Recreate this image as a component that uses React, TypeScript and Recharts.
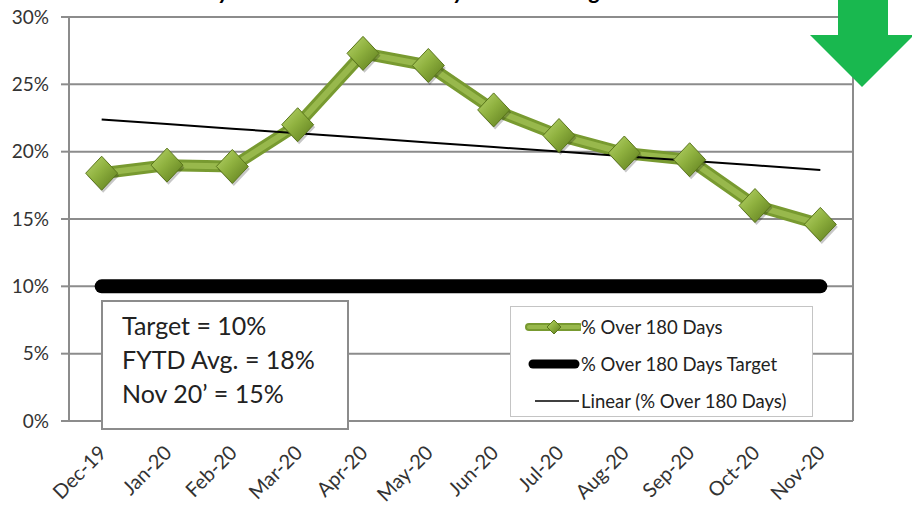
import {
  LineChart,
  Line,
  XAxis,
  YAxis,
  CartesianGrid,
  Legend,
  ReferenceLine,
} from 'recharts';

const months = [
  'Dec-19', 'Jan-20', 'Feb-20', 'Mar-20', 'Apr-20', 'May-20',
  'Jun-20', 'Jul-20', 'Aug-20', 'Sep-20', 'Oct-20', 'Nov-20',
];
const pctOver180 = [
  0.184, 0.19, 0.189, 0.22, 0.273, 0.264, 0.231, 0.212, 0.199, 0.194, 0.16, 0.146,
];
const targetPct = [0.1, 0.1, 0.1, 0.1, 0.1, 0.1, 0.1, 0.1, 0.1, 0.1, 0.1, 0.1];
const yTicks = [0, 0.05, 0.1, 0.15, 0.2, 0.25, 0.3];
const notes = ['Target = 10%', 'FYTD Avg. = 18%', 'Nov 20\u2019 = 15%'];
const legendItems = ['% Over 180 Days', '% Over 180 Days Target', 'Linear (% Over 180 Days)'];
const title = 'Monthly Accounts Over 180 Days Outstanding Trend';

// least squares fit, same as the spreadsheet "Linear" trendline
const n = pctOver180.length;
const meanX = (n - 1) / 2;
const meanY = pctOver180.reduce((s, v) => s + v, 0) / n;
let sxy = 0;
let sxx = 0;
pctOver180.forEach((v, i) => {
  sxy += (i - meanX) * (v - meanY);
  sxx += (i - meanX) * (i - meanX);
});
const slope = sxy / sxx;
const intercept = meanY - slope * meanX;

const data = months.map((month, i) => ({
  idx: i,
  month,
  pct: pctOver180[i],
  target: targetPct[i],
  trend: intercept + slope * i,
}));

const gridGray = '#8c8c8c';
const textColor = '#333';

const Diamond = (props: any) => {
  const { cx, cy } = props;
  if (cx == null || cy == null) return null;
  const w = 16;
  const h = 17;
  const pts = (dx: number, dy: number) =>
    `${cx + dx},${cy - h + dy} ${cx + w + dx},${cy + dy} ${cx + dx},${cy + h + dy} ${cx - w + dx},${cy + dy}`;
  return (
    <g>
      <polygon points={pts(1.5, 2.5)} fill="#000" opacity={0.22} />
      <polygon points={pts(0, 0)} fill="url(#diamondFill)" stroke="#5a761c" strokeWidth={1} />
    </g>
  );
};

const MonthTick = (props: any) => {
  const { x, y, payload } = props;
  const ax = x + 6;
  const ay = y + 33;
  return (
    <text
      x={ax}
      y={ay}
      transform={`rotate(-45 ${ax} ${ay})`}
      textAnchor="end"
      fill={textColor}
      fontSize={20}
    >
      {months[payload.value]}
    </text>
  );
};

const LegendBox = () => (
  <div
    style={{
      width: 303,
      height: 111,
      boxSizing: 'border-box',
      border: '1px solid #c4c4c4',
      background: '#fff',
      paddingTop: 1,
      fontSize: 18.5,
      color: '#222',
    }}
  >
    {legendItems.map((label, i) => (
      <div key={label} style={{ display: 'flex', alignItems: 'center', height: 37 }}>
        <svg width={70} height={24} style={{ flex: 'none' }}>
          {i === 0 && (
            <g>
              <line x1={18} y1={12} x2={68} y2={12} stroke="#789a30" strokeWidth={8} strokeLinecap="round" />
              <line x1={18} y1={12} x2={68} y2={12} stroke="#98b84c" strokeWidth={4} strokeLinecap="round" />
              <polygon points="43,5 50,12 43,19 36,12" fill="url(#diamondFill)" stroke="#5a761c" />
            </g>
          )}
          {i === 1 && (
            <line x1={22} y1={12} x2={64} y2={12} stroke="#000" strokeWidth={9} strokeLinecap="round" />
          )}
          {i === 2 && <line x1={24} y1={12} x2={68} y2={12} stroke="#000" strokeWidth={1.5} />}
        </svg>
        <span>{label}</span>
      </div>
    ))}
  </div>
);

export default function App() {
  return (
    <div
      style={{
        position: 'absolute',
        left: 0,
        top: 0,
        width: 912,
        height: 510,
        overflow: 'hidden',
        background: '#fff',
        fontFamily: 'Lato, sans-serif',
      }}
    >
      <LineChart
        width={912}
        height={510}
        data={data}
        margin={{ top: 17, right: 59, bottom: 0, left: 0 }}
      >
        <defs>
          <linearGradient id="diamondFill" x1="0" y1="0" x2="1" y2="1">
            <stop offset="0%" stopColor="#b9d66e" />
            <stop offset="45%" stopColor="#8fb13f" />
            <stop offset="100%" stopColor="#5b7a1b" />
          </linearGradient>
        </defs>
        <CartesianGrid vertical={false} stroke={gridGray} strokeWidth={2} />
        <XAxis
          xAxisId="marks"
          dataKey="idx"
          type="number"
          domain={[-0.5, 11.5]}
          ticks={[-0.5, 0.5, 1.5, 2.5, 3.5, 4.5, 5.5, 6.5, 7.5, 8.5, 9.5, 10.5, 11.5]}
          tick={false}
          tickSize={8}
          tickLine={{ stroke: gridGray, strokeWidth: 2 }}
          axisLine={false}
          height={0}
        />
        <XAxis
          dataKey="idx"
          type="number"
          domain={[-0.5, 11.5]}
          ticks={[0, 1, 2, 3, 4, 5, 6, 7, 8, 9, 10, 11]}
          interval={0}
          tick={<MonthTick />}
          tickLine={false}
          tickSize={0}
          tickMargin={0}
          axisLine={{ stroke: gridGray, strokeWidth: 2 }}
          height={89}
        />
        <YAxis
          domain={[0, 0.3]}
          ticks={yTicks}
          tickFormatter={(v: number) => `${Math.round(v * 100)}%`}
          tick={{ fill: textColor, fontSize: 19 }}
          tickSize={8}
          tickMargin={12}
          tickLine={{ stroke: gridGray, strokeWidth: 2 }}
          axisLine={{ stroke: gridGray, strokeWidth: 2 }}
          width={69}
        />
        <ReferenceLine xAxisId="marks" x={11.5} stroke={gridGray} strokeWidth={2} />
        <Legend
          layout="vertical"
          align="center"
          verticalAlign="middle"
          content={<LegendBox />}
          wrapperStyle={{ left: 510, top: 306, width: 303, height: 111 }}
        />
        <Line
          dataKey="pct"
          stroke="#789a30"
          strokeWidth={12}
          dot={false}
          activeDot={false}
          isAnimationActive={false}
          legendType="none"
        />
        <Line
          dataKey="pct"
          stroke="#98b84c"
          strokeWidth={6}
          dot={<Diamond />}
          activeDot={false}
          isAnimationActive={false}
          legendType="none"
        />
        <Line
          dataKey="target"
          stroke="#000"
          strokeWidth={14}
          strokeLinecap="round"
          dot={false}
          activeDot={false}
          isAnimationActive={false}
        />
        <Line
          dataKey="trend"
          stroke="#000"
          strokeWidth={2}
          dot={false}
          activeDot={false}
          isAnimationActive={false}
        />
      </LineChart>

      <div
        style={{
          position: 'absolute',
          left: 101,
          top: 300,
          width: 248,
          height: 130,
          boxSizing: 'border-box',
          border: '2px solid #8c8c8c',
          background: '#fff',
          paddingLeft: 19,
          paddingTop: 6,
          fontSize: 25,
          lineHeight: '34px',
          color: '#222',
        }}
      >
        {notes.map((t) => (
          <div key={t}>{t}</div>
        ))}
      </div>

      <svg
        width={912}
        height={510}
        style={{ position: 'absolute', left: 0, top: 0, pointerEvents: 'none' }}
      >
        <text x={148} y={-1} fontSize={23} fontWeight="bold" fontStyle="italic" fill="#000">
          {title}
        </text>
        <polygon points="838,0 888,0 888,35 914,35 862,87 810,35 838,35" fill="#19b84f" />
      </svg>
    </div>
  );
}
